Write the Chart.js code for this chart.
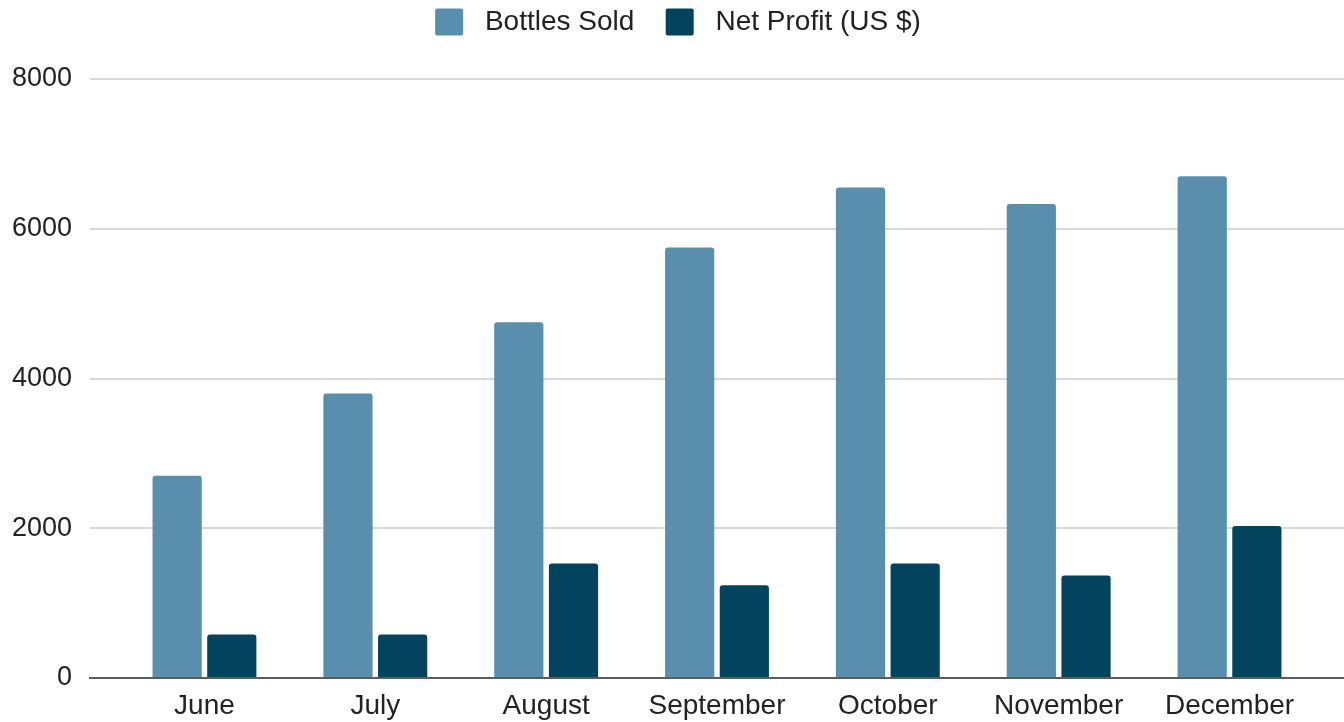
<!DOCTYPE html>
<html>
<head>
<meta charset="utf-8">
<script src="https://cdn.jsdelivr.net/npm/chart.js@4.4.1/dist/chart.umd.min.js"></script>
<style>
html,body{margin:0;padding:0;background:#ffffff;}
#wrap{width:1344px;height:722px;position:relative;}
</style>
</head>
<body>
<div id="wrap"><canvas id="c" width="1344" height="722"></canvas></div>
<script>
const months = ["June", "July", "August", "September", "October", "November", "December"];
const bottlesSold = [2700, 3800, 4750, 5750, 6550, 6330, 6700];
const netProfit = [580, 580, 1530, 1240, 1530, 1370, 2030];
const yTicks = [0, 2000, 4000, 6000, 8000];
const seriesNames = ["Bottles Sold", "Net Profit (US $)"];
const seriesColors = ["#598EAD", "#03435E"];

const FONT = "'Liberation Sans', Arial, Helvetica, sans-serif";

const legendSpacer = {
  id: 'legendSpacer',
  beforeUpdate(chart) {
    const lg = chart.legend;
    if (lg && !lg._patched) {
      const orig = lg.fit;
      lg.fit = function () { orig.call(this); this.height = 79; };
      lg._patched = true;
    }
  }
};

new Chart(document.getElementById('c'), {
  type: 'bar',
  data: {
    datasets: [
      {
        label: seriesNames[0],
        data: bottlesSold.map((v, i) => ({ x: i, y: v })),
        backgroundColor: seriesColors[0],
        borderWidth: 0,
        borderRadius: 3,
        categoryPercentage: 0.64,
        barPercentage: 0.9
      },
      {
        label: seriesNames[1],
        data: netProfit.map((v, i) => ({ x: i, y: v })),
        backgroundColor: seriesColors[1],
        borderWidth: 0,
        borderRadius: 3,
        categoryPercentage: 0.64,
        barPercentage: 0.9
      }
    ]
  },
  options: {
    responsive: false,
    devicePixelRatio: 1,
    animation: false,
    layout: { padding: { left: 12, right: 0, top: 0, bottom: 0 } },
    plugins: {
      tooltip: { enabled: false },
      legend: {
        position: 'top',
        align: 'center',
        labels: {
          font: { family: FONT, size: 28 },
          color: '#222222',
          boxWidth: 28,
          boxHeight: 27,
          padding: 8,
          useBorderRadius: true,
          borderRadius: 2,
          generateLabels(chart) {
            const items = Chart.defaults.plugins.legend.labels.generateLabels(chart);
            items[0].text = ' ' + items[0].text + '   ';
            items[1].text = ' ' + items[1].text;
            return items;
          }
        }
      }
    },
    scales: {
      x: {
        type: 'linear',
        offset: false,
        min: -0.67,
        max: 6.67,
        grid: { display: false, drawTicks: false, offset: false },
        border: { display: true, color: '#5c5c5c', width: 2 },
        afterBuildTicks(s) { s.ticks = months.map((m, i) => ({ value: i })); },
        afterFit(s) { s.height = 44; },
        ticks: {
          callback: (v) => months[v],
          font: { family: FONT, size: 28 },
          color: '#222222',
          padding: 11,
          autoSkip: false,
          maxRotation: 0
        }
      },
      y: {
        min: 0,
        max: 8000,
        afterBuildTicks(s) { s.ticks = yTicks.map(v => ({ value: v })); },
        afterFit(s) { s.width = 78; },
        grid: { color: '#d9d9d9', lineWidth: 2, drawTicks: false },
        border: { display: false },
        ticks: {
          callback: (v) => String(v),
          font: { family: FONT, size: 27 },
          color: '#222222',
          padding: 18
        }
      }
    }
  },
  plugins: [legendSpacer]
});
</script>
</body>
</html>
